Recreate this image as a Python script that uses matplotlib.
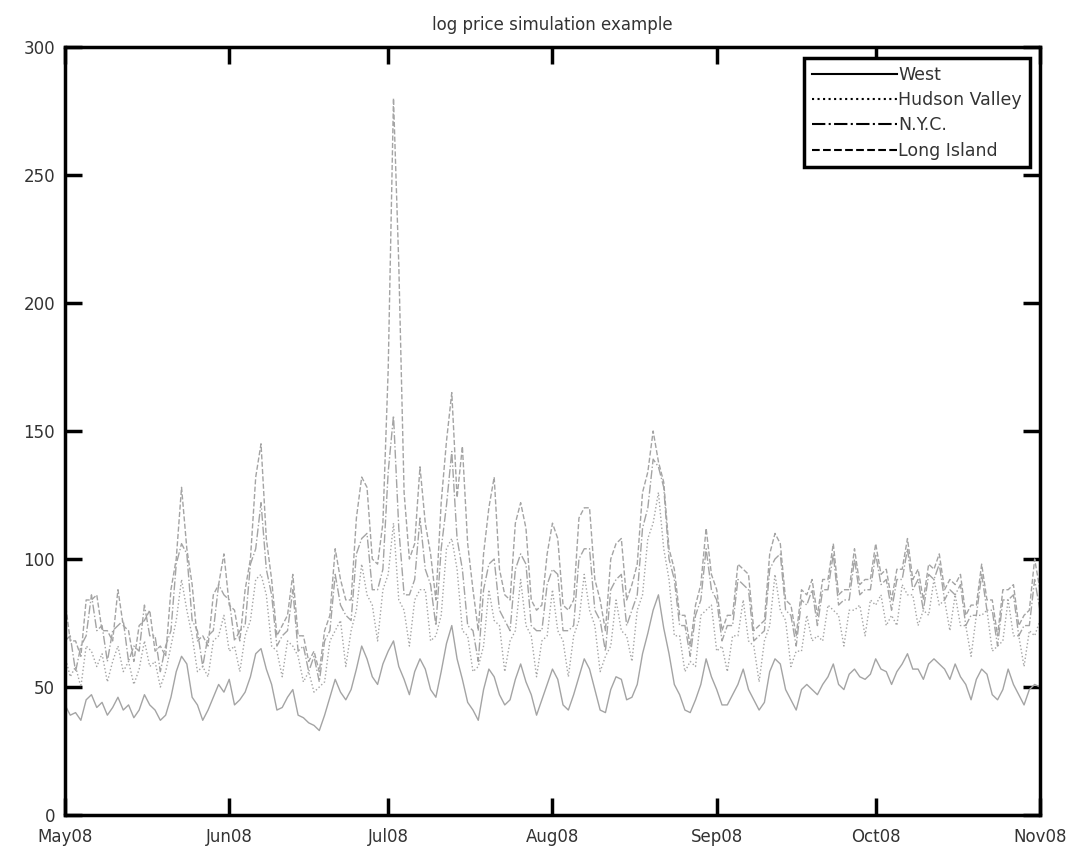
import matplotlib
matplotlib.use("Agg")
import matplotlib.pyplot as plt
import matplotlib.dates as mdates
import numpy as np
import pandas as pd

plt.rcParams['font.family'] = ['DejaVu Sans']

# Daily simulated prices, 1 May 2008 - 1 Nov 2008
dates = pd.date_range("2008-05-01", "2008-11-01", freq="D")

west = [
    43, 39, 40, 37, 45, 47, 42,
    44, 39, 42, 46, 41, 43, 38,
    41, 47, 43, 41, 37, 39, 46,
    56, 62, 59, 46, 43, 37, 41,
    46, 51, 48, 53, 43, 45, 48,
    54, 63, 65, 57, 51, 41, 42,
    46, 49, 39, 38, 36, 35, 33,
    39, 46, 53, 48, 45, 49, 57,
    66, 61, 54, 51, 59, 64, 68,
    58, 53, 47, 56, 61, 57, 49,
    46, 56, 67, 74, 61, 53, 44,
    41, 37, 49, 57, 54, 47, 43,
    45, 53, 59, 52, 47, 39, 45,
    51, 57, 53, 43, 41, 47, 54,
    61, 57, 49, 41, 40, 49, 54,
    53, 45, 46, 51, 63, 71, 80,
    86, 73, 63, 51, 47, 41, 40,
    45, 51, 61, 54, 49, 43, 43,
    47, 51, 57, 49, 45, 41, 44,
    56, 61, 59, 49, 45, 41, 49,
    51, 49, 47, 51, 54, 59, 51,
    49, 55, 57, 54, 53, 55, 61,
    57, 56, 51, 56, 59, 63, 57,
    57, 53, 59, 61, 59, 57, 53,
    59, 54, 51, 45, 53, 57, 55,
    47, 45, 49, 57, 51, 47, 43,
    49, 51, 50,
]

hudson_valley = [
    62, 54, 58, 50, 66, 64, 58,
    63, 52, 60, 66, 56, 60, 51,
    57, 68, 58, 60, 50, 56, 66,
    76, 92, 80, 70, 56, 58, 54,
    68, 70, 78, 64, 66, 56, 70,
    76, 92, 94, 86, 66, 64, 54,
    68, 66, 62, 52, 56, 48, 50,
    52, 68, 72, 76, 58, 72, 80,
    98, 86, 82, 68, 88, 94, 114,
    84, 80, 66, 84, 88, 88, 68,
    70, 78, 104, 108, 96, 72, 70,
    56, 58, 66, 88, 76, 74, 56,
    68, 72, 92, 74, 70, 54, 68,
    70, 88, 72, 68, 54, 70, 76,
    94, 80, 74, 56, 62, 66, 84,
    72, 70, 60, 80, 86, 108, 114,
    126, 104, 92, 70, 70, 56, 60,
    58, 78, 80, 82, 64, 66, 56,
    70, 70, 84, 68, 66, 52, 68,
    74, 94, 80, 76, 58, 64, 64,
    78, 68, 70, 68, 82, 80, 78,
    66, 80, 80, 82, 70, 84, 82,
    86, 74, 78, 74, 90, 86, 86,
    74, 80, 78, 92, 82, 84, 72,
    86, 74, 74, 62, 78, 78, 80,
    64, 66, 68, 84, 70, 70, 58,
    72, 70, 76,
]

nyc = [
    68, 70, 56, 66, 70, 86, 72,
    74, 60, 72, 74, 76, 60, 66,
    64, 82, 70, 70, 56, 66, 72,
    98, 106, 102, 76, 72, 58, 70,
    72, 90, 86, 84, 68, 72, 74,
    98, 104, 122, 96, 86, 66, 70,
    72, 88, 64, 66, 56, 62, 52,
    68, 72, 94, 82, 78, 76, 102,
    108, 110, 88, 88, 96, 134, 156,
    112, 86, 86, 92, 116, 96, 90,
    74, 104, 121, 142, 108, 96, 74,
    72, 60, 88, 98, 100, 80, 76,
    72, 96, 102, 98, 74, 72, 72,
    90, 96, 94, 72, 72, 74, 100,
    104, 104, 80, 76, 64, 88, 92,
    94, 74, 80, 86, 112, 120, 139,
    136, 128, 100, 92, 74, 74, 62,
    78, 84, 104, 88, 84, 68, 74,
    74, 92, 90, 88, 68, 70, 72,
    96, 100, 102, 80, 78, 66, 84,
    82, 88, 74, 88, 88, 102, 82,
    84, 84, 100, 86, 88, 88, 102,
    90, 92, 80, 92, 92, 104, 88,
    92, 80, 94, 92, 98, 84, 88,
    86, 90, 74, 78, 78, 94, 80,
    80, 66, 84, 84, 86, 70, 74,
    74, 92, 80,
]

long_island = [
    84, 68, 68, 62, 84, 84, 86,
    72, 72, 68, 88, 74, 72, 60,
    74, 76, 80, 64, 66, 62, 88,
    100, 128, 104, 90, 68, 70, 66,
    86, 90, 102, 82, 80, 68, 88,
    100, 132, 145, 108, 92, 70, 74,
    78, 94, 70, 70, 60, 64, 56,
    72, 78, 104, 92, 84, 84, 116,
    132, 128, 100, 98, 114, 174, 280,
    215, 126, 100, 106, 136, 114, 102,
    84, 122, 146, 165, 124, 144, 106,
    88, 72, 102, 120, 132, 96, 86,
    84, 114, 122, 112, 84, 80, 82,
    102, 114, 108, 82, 80, 84, 116,
    120, 120, 92, 84, 72, 100, 106,
    108, 84, 90, 98, 126, 134, 150,
    138, 130, 104, 96, 78, 78, 66,
    82, 90, 112, 94, 88, 72, 78,
    78, 98, 96, 94, 72, 74, 76,
    102, 110, 106, 84, 82, 70, 88,
    86, 92, 78, 92, 92, 106, 86,
    88, 88, 104, 90, 92, 92, 106,
    94, 96, 84, 96, 96, 108, 92,
    96, 84, 98, 96, 102, 88, 92,
    90, 94, 78, 82, 82, 98, 84,
    84, 70, 88, 88, 90, 74, 78,
    80, 100, 88,
]

series = [
    ("West", west, "-"),
    ("Hudson Valley", hudson_valley, ":"),
    ("N.Y.C.", nyc, "-."),
    ("Long Island", long_island, "--"),
]

fig = plt.figure(figsize=(10.72, 8.48), dpi=100)
ax = fig.add_axes([0.0606, 0.0389, 0.9095, 0.9057])

for name, vals, ls in series:
    ax.plot(dates, vals, linestyle=ls, color="#a4a4a4", linewidth=1.0, label=name)

ax.set_xlim(pd.Timestamp("2008-05-01"), pd.Timestamp("2008-11-01"))
ax.set_ylim(0, 300)
ax.set_yticks(np.arange(0, 301, 50))
ax.xaxis.set_major_locator(mdates.MonthLocator())
ax.xaxis.set_major_formatter(mdates.DateFormatter("%b%y"))

for s in ax.spines.values():
    s.set_linewidth(2.5)
    s.set_color("black")
ax.tick_params(direction="in", length=12, width=2.5, top=True, right=True,
               labelsize=12, labelcolor="#333333")
ax.tick_params(axis="x", pad=9)
ax.tick_params(axis="y", pad=7)

ax.set_title("log price simulation example", fontsize=12, color="#333333", pad=12)

leg = ax.legend(loc="upper right", bbox_to_anchor=(0.9897, 0.9857), fontsize=12.5,
                handlelength=4.9, handletextpad=0.1, borderpad=0.45,
                labelspacing=0.42, fancybox=False, framealpha=1,
                edgecolor="black", borderaxespad=0)
leg.get_frame().set_linewidth(2.5)
for h in leg.get_lines():
    h.set_color("black")
    h.set_linewidth(1.5)
for t in leg.get_texts():
    t.set_color("#333333")

fig.savefig("out.png", dpi=100)
